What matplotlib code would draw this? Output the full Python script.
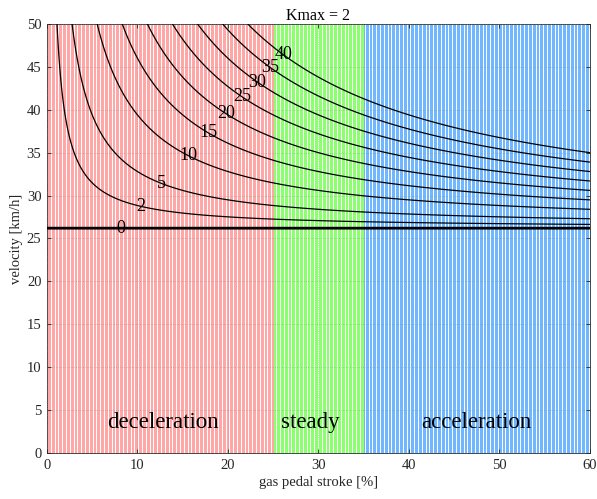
import numpy as np
import matplotlib
matplotlib.use("Agg")
import matplotlib.pyplot as plt

# Operating regions along the gas pedal stroke axis
region_edges = [0, 25, 35, 60]
region_names = ["deceleration", "steady", "acceleration"]
region_colors = [(1.0, 0.5, 0.5), (0.35, 1.0, 0.2), (0.2, 0.6, 1.0)]
region_label_x = [12.8, 29.1, 47.5]
region_label_v = 3.5

# Contour levels of the Kmax = 2 map and their label anchors
levels = [0, 2, 5, 10, 15, 20, 25, 30, 35, 40]
label_x = [8.2, 10.3, 12.8, 15.8, 17.9, 19.7, 21.3, 23.1, 24.6, 26.3]
label_v = [26.2, 28.7, 31.7, 35.1, 37.5, 39.4, 41.1, 43.0, 44.9, 46.7]

# Map parameters: steady velocity and stroke gain
v_steady = 26.2
gain = 13.2

xticks = [0, 10, 20, 30, 40, 50, 60]
yticks = [0, 5, 10, 15, 20, 25, 30, 35, 40, 45, 50]

plt.rcParams["font.family"] = ["Liberation Serif", "DejaVu Serif"]

fig = plt.figure(figsize=(5.97, 4.99), dpi=100)
ax = fig.add_axes([0.0787, 0.0922, 0.9095, 0.8598])

# striped region shading
step = 0.15
for lo, hi, col in zip(region_edges[:-1], region_edges[1:], region_colors):
    xs = np.arange(lo + step / 2, hi, step)
    ax.vlines(xs, 0, 50, colors=[col], linewidth=0.5, zorder=1)

# contour map
xg = np.linspace(0.01, 60, 1200)
vg = np.linspace(0, 50, 1000)
X, V = np.meshgrid(xg, vg)
K = (V - v_steady) * X / gain
widths = [2.0 if lv == 0 else 0.9 for lv in levels]
cs = ax.contour(X, V, K, levels=levels, colors="black", linewidths=widths, zorder=3)
labels = ax.clabel(cs, levels=levels, fmt="%d", fontsize=13, inline=False,
                   manual=list(zip(label_x, label_v)))
for t in labels:
    t.set_rotation(0)

for name, lx in zip(region_names, region_label_x):
    ax.text(lx, region_label_v, name, ha="center", va="center", fontsize=16.5, zorder=4)

ax.set_xlim(0, 60)
ax.set_ylim(0, 50)
ax.set_xticks(xticks)
ax.set_yticks(yticks)
ax.tick_params(direction="in", top=True, right=True, labelsize=10.5, length=3,
               width=0.6, colors="#262626", pad=4)
ax.grid(True, linestyle=":", color="#888888", linewidth=0.6, alpha=0.5)
ax.set_axisbelow(False)
for s in ax.spines.values():
    s.set_color("#262626")
    s.set_linewidth(0.6)

ax.set_xlabel("gas pedal stroke [%]", fontsize=10.5, color="#262626", labelpad=3)
ax.set_ylabel("velocity [km/h]", fontsize=10.5, color="#262626", labelpad=3)
ax.set_title("Kmax = 2", fontsize=11.5, pad=3)

fig.savefig("out.png", dpi=100)
